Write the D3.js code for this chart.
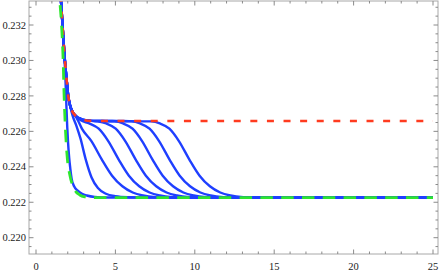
<!DOCTYPE html>
<html>
<head>
<meta charset="utf-8">
<script src="https://cdn.jsdelivr.net/npm/d3@7"></script>
<style>
  html, body { margin: 0; padding: 0; background: #fff; }
  svg { display: block; }
</style>
</head>
<body>
<svg id="chart" width="442" height="273"></svg>
<script>
// ---- data ----
const xTicks = [0, 5, 10, 15, 20, 25];
const yTicks = [0.220, 0.222, 0.224, 0.226, 0.228, 0.230, 0.232];

// upper bound curve (red dashed)
const redCurve = [[1.55,0.2337],[1.67,0.2320],[1.82,0.2300],[1.92,0.2290],[2.03,0.2280],[2.15,0.22745],[2.3,0.2271],[2.44,0.22693],[2.6,0.22680],[2.76,0.22673],[3.0,0.22664],[3.5,0.22659],[5,0.22658],[25,0.22658]];
// lower bound curve (green dashed)
const greenCurve = [[1.45,0.2343],[1.50,0.2334],[1.61,0.2320],[1.71,0.2300],[1.77,0.2280],[1.86,0.2260],[1.98,0.22439],[2.13,0.22354],[2.44,0.22270],[2.76,0.22241],[3.1,0.22230],[3.5,0.22226],[25,0.22226]];

// blue curves
const blue1 = [[1.55,0.2337],[1.67,0.2320],[1.80,0.2300],[1.86,0.2288],[1.92,0.2273],[1.97,0.2262],[2.02,0.22535],[2.09,0.2245],[2.16,0.2239],[2.24,0.22335],[2.4,0.2229],[2.63,0.22265],[2.9,0.22248],[3.2,0.22238],[3.7,0.22230],[4.5,0.22227],[25,0.22226]];
const blue2 = [[1.55,0.2337],[1.67,0.2320],[1.82,0.2300],[1.92,0.2290],[2.03,0.2280],[2.15,0.22745],[2.3,0.2269],[2.55,0.2263],[2.8,0.2256],[3.13,0.22442],[3.5,0.2234],[3.9,0.2228],[4.4,0.22248],[5.0,0.22234],[5.8,0.22228],[7,0.22226],[25,0.22226]];
const blue3 = [[1.55,0.2337],[1.67,0.2320],[1.82,0.2300],[1.92,0.2290],[2.03,0.2280],[2.15,0.22745],[2.3,0.2271],[2.44,0.22693],[2.65,0.2266],[2.89,0.22615],[3.49,0.22545],[4.14,0.22442],[4.79,0.22350],[5.44,0.22290],[6.09,0.22255],[6.74,0.22238],[7.54,0.22229],[8.54,0.22226],[25,0.22226]];
const blue4 = [[1.55,0.2337],[1.67,0.2320],[1.82,0.2300],[1.92,0.2290],[2.03,0.2280],[2.15,0.22745],[2.3,0.2271],[2.44,0.22693],[2.6,0.22680],[2.8,0.22664],[3.35,0.22645],[3.95,0.22615],[4.55,0.22545],[5.20,0.22442],[5.85,0.22350],[6.50,0.22290],[7.15,0.22255],[7.80,0.22238],[8.60,0.22229],[9.60,0.22226],[25,0.22226]];
const blue5 = [[1.55,0.2337],[1.67,0.2320],[1.82,0.2300],[1.92,0.2290],[2.03,0.2280],[2.15,0.22745],[2.3,0.2271],[2.44,0.22693],[2.6,0.22680],[2.76,0.22673],[3.0,0.22664],[3.5,0.22659],[3.87,0.22656],[4.42,0.22645],[5.02,0.22615],[5.62,0.22545],[6.27,0.22442],[6.92,0.22350],[7.57,0.22290],[8.22,0.22255],[8.87,0.22238],[9.67,0.22229],[10.67,0.22226],[25,0.22226]];
const blue6 = [[1.55,0.2337],[1.67,0.2320],[1.82,0.2300],[1.92,0.2290],[2.03,0.2280],[2.15,0.22745],[2.3,0.2271],[2.44,0.22693],[2.6,0.22680],[2.76,0.22673],[3.0,0.22664],[3.5,0.22659],[4.2,0.22658],[4.93,0.22656],[5.48,0.22645],[6.08,0.22615],[6.68,0.22545],[7.33,0.22442],[7.98,0.22350],[8.63,0.22290],[9.28,0.22255],[9.93,0.22238],[10.73,0.22229],[11.73,0.22226],[25,0.22226]];
const blue7 = [[1.55,0.2337],[1.67,0.2320],[1.82,0.2300],[1.92,0.2290],[2.03,0.2280],[2.15,0.22745],[2.3,0.2271],[2.44,0.22693],[2.6,0.22680],[2.76,0.22673],[3.0,0.22664],[3.5,0.22659],[4.8,0.22658],[6.00,0.22656],[6.55,0.22645],[7.15,0.22615],[7.75,0.22545],[8.40,0.22442],[9.05,0.22350],[9.70,0.22290],[10.35,0.22255],[11.00,0.22238],[11.80,0.22229],[12.80,0.22226],[25,0.22226]];
const blue8 = [[1.55,0.2337],[1.67,0.2320],[1.82,0.2300],[1.92,0.2290],[2.03,0.2280],[2.15,0.22745],[2.3,0.2271],[2.44,0.22693],[2.6,0.22680],[2.76,0.22673],[3.0,0.22664],[3.5,0.22659],[5.5,0.22658],[7.25,0.22656],[7.80,0.22645],[8.40,0.22615],[9.00,0.22545],[9.65,0.22442],[10.30,0.22350],[10.95,0.22290],[11.60,0.22255],[12.25,0.22238],[13.05,0.22229],[14.05,0.22226],[25,0.22226]];
const blueCurves = [blue1, blue2, blue3, blue4, blue5, blue6, blue7, blue8];

// ---- layout ----
const svg = d3.select("#chart");
const frame = { left: 29, right: 438, top: 1, bottom: 254 };

const x = d3.scaleLinear().domain([0, 25]).range([36, 433]);
const y = d3.scaleLinear().domain([0.220, 0.232]).range([237.7, 25]);

const xMinor = d3.range(0, 26, 1).filter(v => v % 5 !== 0);
const yMinorAll = d3.range(0.2190, 0.2336, 0.0005).map(v => +v.toFixed(4));
const yMinor = yMinorAll.filter(v => !yTicks.some(t => Math.abs(t - v) < 1e-7)).filter(v => y(v) > frame.top && y(v) < frame.bottom);

svg.append("defs").append("clipPath").attr("id", "clip")
  .append("rect")
  .attr("x", frame.left).attr("y", frame.top)
  .attr("width", frame.right - frame.left).attr("height", frame.bottom - frame.top);

const line = d3.line().x(d => x(d[0])).y(d => y(d[1])).curve(d3.curveMonotoneX);

const plot = svg.append("g").attr("clip-path", "url(#clip)");

plot.selectAll("path.blue").data(blueCurves).join("path")
  .attr("class", "blue")
  .attr("d", line)
  .attr("fill", "none")
  .attr("stroke", "#1f3fff")
  .attr("stroke-width", 2.4);

plot.append("path").datum(redCurve)
  .attr("d", line)
  .attr("fill", "none")
  .attr("stroke", "#ff3b1f")
  .attr("stroke-width", 2.6)
  .attr("stroke-dasharray", "7,9.6");

plot.append("path").datum(greenCurve)
  .attr("d", line)
  .attr("fill", "none")
  .attr("stroke", "#2ee62e")
  .attr("stroke-width", 2.8)
  .attr("stroke-dasharray", "12.5,8.3");

// ---- frame and ticks ----
const tickColor = "#8a8a8a";
const g = svg.append("g");
g.append("rect")
  .attr("x", frame.left).attr("y", frame.top)
  .attr("width", frame.right - frame.left).attr("height", frame.bottom - frame.top)
  .attr("fill", "none").attr("stroke", "#a8a8a8").attr("stroke-width", 1);

const majorLen = 4.5, minorLen = 2.5;
function xTickMarks(vals, len) {
  g.selectAll(null).data(vals).join("line")
    .attr("x1", d => x(d)).attr("x2", d => x(d))
    .attr("y1", frame.bottom).attr("y2", frame.bottom - len)
    .attr("stroke", tickColor).attr("stroke-width", 1);
  g.selectAll(null).data(vals).join("line")
    .attr("x1", d => x(d)).attr("x2", d => x(d))
    .attr("y1", frame.top).attr("y2", frame.top + len)
    .attr("stroke", tickColor).attr("stroke-width", 1);
}
function yTickMarks(vals, len) {
  g.selectAll(null).data(vals).join("line")
    .attr("y1", d => y(d)).attr("y2", d => y(d))
    .attr("x1", frame.left).attr("x2", frame.left + len)
    .attr("stroke", tickColor).attr("stroke-width", 1);
  g.selectAll(null).data(vals).join("line")
    .attr("y1", d => y(d)).attr("y2", d => y(d))
    .attr("x1", frame.right).attr("x2", frame.right - len)
    .attr("stroke", tickColor).attr("stroke-width", 1);
}
xTickMarks(xTicks, majorLen);
xTickMarks(xMinor, minorLen);
yTickMarks(yTicks, majorLen);
yTickMarks(yMinor, minorLen);

const font = "Liberation Serif, DejaVu Serif, Times New Roman, serif";
g.selectAll(null).data(xTicks).join("text")
  .attr("x", d => x(d)).attr("y", 270)
  .attr("text-anchor", "middle")
  .style("font-family", font).style("font-size", "10.5px")
  .attr("fill", "#222")
  .text(d => d3.format("d")(d));

g.selectAll(null).data(yTicks).join("text")
  .attr("x", 26).attr("y", d => y(d))
  .attr("dy", "0.35em")
  .attr("text-anchor", "end")
  .style("font-family", font).style("font-size", "10.5px")
  .attr("fill", "#222")
  .text(d => d3.format(".3f")(d));
</script>
</body>
</html>
